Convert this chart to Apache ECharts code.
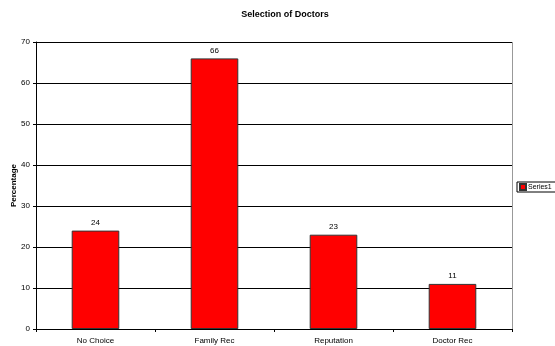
<!DOCTYPE html>
<html><head><meta charset="utf-8">
<script src="https://cdn.jsdelivr.net/npm/echarts@6/dist/echarts.min.js"></script>
<style>html,body{margin:0;padding:0;background:#fff}#c{width:555px;height:346px}</style>
</head><body><div id="c"></div>
<script>
const categories = ["No Choice", "Family Rec", "Reputation", "Doctor Rec"];
const series1 = [24, 66, 23, 11];
const yTicks = { min: 0, max: 70, interval: 10 };
const chart = echarts.init(document.getElementById('c'));
const F = 'Liberation Sans, Arial, sans-serif';
chart.setOption({
  animation: false,
  title: { text: 'Selection of Doctors', left: 280, top: 5, textAlign: 'center',
    textStyle: { fontFamily: F, fontSize: 9, fontWeight: 'bold', color: '#000' } },
  legend: { data: ['Series1'], left: 517, top: 182, orient: 'vertical',
    itemWidth: 6, itemHeight: 6, itemGap: 4, padding: [1, 5, 1, 2],
    borderColor: '#000', borderWidth: 1, icon: 'rect',
    textStyle: { fontFamily: F, fontSize: 7, color: '#000', padding: [0,0,0,-3] } },
  grid: { left: 36, top: 42, right: 43, bottom: 17, outerBoundsMode: 'none', containLabel: false },
  xAxis: { type: 'category', data: categories,
    axisLine: { lineStyle: { color: '#000' } },
    axisTick: { show: true, alignWithLabel: false, length: 3, lineStyle: { color: '#000' } },
    axisLabel: { fontFamily: F, fontSize: 8, color: '#000', margin: 8 } },
  yAxis: { type: 'value', min: yTicks.min, max: yTicks.max, interval: yTicks.interval,
    name: 'Percentage', nameLocation: 'middle', nameGap: 18, nameRotate: 90, nameMoveOverlap: false,
    nameTextStyle: { fontFamily: F, fontSize: 8, fontWeight: 'bold', color: '#000' },
    axisLine: { show: true, lineStyle: { color: '#000' } },
    axisTick: { show: true, length: 3, lineStyle: { color: '#000' } },
    axisLabel: { fontFamily: F, fontSize: 8, color: '#000', margin: 6 },
    splitLine: { lineStyle: { color: '#000', width: 1 } } },
  series: [{ name: 'Series1', type: 'bar', data: series1, barWidth: '40%',
    itemStyle: { color: '#ff0000', borderColor: '#333', borderWidth: 1 },
    label: { show: true, position: 'top', distance: 4, fontFamily: F, fontSize: 8, color: '#000' } }],
  graphic: [{ type: 'line', shape: { x1: 512.5, y1: 42, x2: 512.5, y2: 329 }, style: { stroke: '#999', lineWidth: 1 }, z: 10 }]
});
</script></body></html>
